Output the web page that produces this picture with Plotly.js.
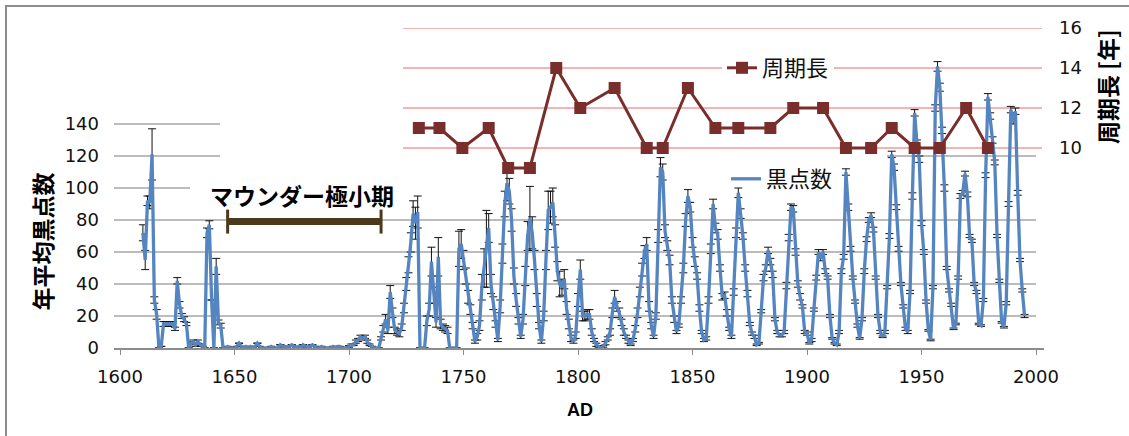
<!DOCTYPE html>
<html><head><meta charset="utf-8">
<script src="https://cdn.plot.ly/plotly-3.0.1.min.js"></script>
<style>html,body{margin:0;padding:0;background:#fff;}#chart{width:1129px;height:436px;}</style>
</head><body><div id="chart"></div>
<script>
// ---- data: annual mean sunspot number ----
const years1600s = [1610,1611,1612,1613,1614,1615,1616,1617,1618,1619,
1620,1621,1622,1623,1624,1625,1626,1627,1628,1629,
1630,1631,1632,1633,1634,1635,1636,1637,1638,1639,
1640,1641,1642,1643,1644,1645,1646,1647,1648,1649,
1650,1651,1652,1653,1654,1655,1656,1657,1658,1659,
1660,1661,1662,1663,1664,1665,1666,1667,1668,1669,
1670,1671,1672,1673,1674,1675,1676,1677,1678,1679,
1680,1681,1682,1683,1684,1685,1686,1687,1688,1689,
1690,1691,1692,1693,1694,1695,1696,1697,1698,1699];
const spots1600s = [72,55,92,91,121,30,21,0,1,15,
15,15,15,15,12,42,27,20,18,15,
0,3,4,2,4,2,1,0,72,77,
30,0,51,16,14,0,0,1,0,0,
0,1,3,1,0,1,0,1,0,1,
3,1,0,0,0,0,1,0,0,0,
2,1,1,0,1,2,1,0,1,0,
2,1,0,1,2,1,0,0,1,0,
0,0,0,1,0,1,1,0,0,0];
const err1600s = [5,6,3,4,16,2,3,0,0,1.5,
1.5,1.5,1.5,1.5,1,2,2,1.5,1.5,1,
0,1,1,1,1,0.5,0,0,3,2.5,
0,0,5,1.5,1.5,0,0,0,0,0,
0,0,0,0,0,0,0,0,0,0,
0,0,0,0,0,0,0,0,0,0,
0,0,0,0,0,0,0,0,0,0,
0,0,0,0,0,0,0,0,0,0,
0,0,0,0,0,0,0,0,0,0];

const years1700s = [1700,1701,1702,1703,1704,1705,1706,1707,1708,1709,
1710,1711,1712,1713,1714,1715,1716,1717,1718,1719,
1720,1721,1722,1723,1724,1725,1726,1727,1728,1729,
1730,1731,1732,1733,1734,1735,1736,1737,1738,1739,
1740,1741,1742,1743,1744,1745,1746,1747,1748,1749,
1750,1751,1752,1753,1754,1755,1756,1757,1758,1759,
1760,1761,1762,1763,1764,1765,1766,1767,1768,1769,
1770,1771,1772,1773,1774,1775,1776,1777,1778,1779,
1780,1781,1782,1783,1784,1785,1786,1787,1788,1789,
1790,1791,1792,1793,1794,1795,1796,1797,1798,1799];
const spots1700s = [1,2,2,4,5,7,6,7,4,2,
1,0,0,0,6,12,18,11,35,22,
11,10,9,13,25,40,52,66,84,78,
85,0,0,0,17,24,54,33,16,57,
15,13,12,11,0,0,0,0,62,65,
55,45,32,24,14,4,7,14,38,50,
62,75,40,28,15,5,26,59,90,103,
98,80,45,30,17,7,18,45,70,81,
72,55,30,14,4,20,55,86,88,91,
70,48,40,38,43,25,15,6,4,8];
const err1700s = [0.5,0.5,0.5,1,1,1,1,1,1,0.5,
0,0,0,0,1,2,3,2,4,3,
2,2,2,2,3,4,5,6,8,10,
10,0,0,0,3,4,9,5,3,12,
3,2,2,2,0,0,0,0,11,9,
6,5,4,3,2,1,2,3,8,12,
24,9,6,4,2,1,4,6,8,11,
8,7,5,4,2,1,3,6,9,20,
10,6,4,2,1,3,6,12,10,9,
7,6,8,5,6,4,3,2,1,2];

const years1800s = [1800,1801,1802,1803,1804,1805,1806,1807,1808,1809,
1810,1811,1812,1813,1814,1815,1816,1817,1818,1819,
1820,1821,1822,1823,1824,1825,1826,1827,1828,1829,
1830,1831,1832,1833,1834,1835,1836,1837,1838,1839,
1840,1841,1842,1843,1844,1845,1846,1847,1848,1849,
1850,1851,1852,1853,1854,1855,1856,1857,1858,1859,
1860,1861,1862,1863,1864,1865,1866,1867,1868,1869,
1870,1871,1872,1873,1874,1875,1876,1877,1878,1879,
1880,1881,1882,1883,1884,1885,1886,1887,1888,1889,
1890,1891,1892,1893,1894,1895,1896,1897,1898,1899];
const spots1800s = [30,49,20,20,21,21,10,5,2,1,
0,1,3,6,10,22,32,26,22,16,
10,7,4,2,5,12,22,35,49,60,
65,26,14,7,20,70,113,110,73,64,
55,30,18,10,14,30,50,80,95,88,
66,54,45,25,10,5,6,30,62,90,
75,71,50,32,33,22,12,7,35,72,
97,84,70,50,34,15,9,7,2,3,
23,44,50,61,54,46,18,10,8,8,
10,39,69,88,87,60,40,32,26,10];
const err1800s = [4,6,3,3,3,3,2,1,1,0.5,
0,0.5,1,1,2,3,4,3,3,2,
2,1,1,0.5,1,2,3,3,4,4,
4,3,2,1,2,4,6,5,4,3,
3,2,2,1,1,2,3,4,4,3,
3,3,2,2,1,1,1,2,3,3,
3,3,2,2,2,2,1,1,2,3,
3,3,2,2,2,1,1,1,0.5,0.5,
1,2,2,2,2,2,1,1,1,1,
1,2,2,2,2,2,2,2,1,1];

const years1900s = [1900,1901,1902,1903,1904,1905,1906,1907,1908,1909,
1910,1911,1912,1913,1914,1915,1916,1917,1918,1919,
1920,1921,1922,1923,1924,1925,1926,1927,1928,1929,
1930,1931,1932,1933,1934,1935,1936,1937,1938,1939,
1940,1941,1942,1943,1944,1945,1946,1947,1948,1949,
1950,1951,1952,1953,1954,1955,1956,1957,1958,1959,
1960,1961,1962,1963,1964,1965,1966,1967,1968,1969,
1970,1971,1972,1973,1974,1975,1976,1977,1978,1979,
1980,1981,1982,1983,1984,1985,1986,1987,1988,1989,
1990,1991,1992,1993,1994,1995];
const spots1900s = [9,3,5,24,44,60,56,60,48,44,
20,6,3,2,10,48,57,110,88,62,
44,29,14,6,18,48,68,80,83,74,
44,20,10,7,10,38,70,121,113,88,
62,40,26,12,10,35,95,147,128,118,
78,60,29,11,5,38,150,176,163,136,
100,50,36,27,12,15,44,95,97,109,
96,70,67,40,35,15,14,30,108,157,
145,130,116,70,42,16,13,28,90,149,
142,148,97,55,36,20];
const err1900s = [1,0.5,1,1,1.5,1.5,1.5,1.5,1.5,1,
1,0.5,0.5,0.5,1,1.5,1.5,2,2,1.5,
1,1,1,0.5,1,1.5,1.5,1.5,1.5,1.5,
1,1,1,0.5,1,1,1.5,2,2,1.5,
1.5,1,1,1,1,1,2,2,2,2,
1.5,1.5,1,0.5,0.5,1,2,3,2.5,2,
2,1,1,1,0.5,0.5,1,1.5,1.5,1.5,
1.5,1,1,1,1,0.5,0.5,1,1.5,2,
2,2,1.5,1,1,0.5,0.5,1,1.5,2,
2,2,1.5,1,1,1];

// ---- data: solar cycle length [years] ----
const cycleYears = [1730.5,1739.5,1749.5,1761,1769.5,1779,1790.5,1801,1816,1830,1837,1848,
                    1860,1870,1884,1894,1907,1917,1928,1937,1947,1958,1969.5,1979];
const cycleLength = [11,11,10,11,9,9,14,12,13,10,10,13,11,11,11,12,12,10,10,11,10,10,12,10];

// ---- tick labels / texts ----
const leftTicks = [0,20,40,60,80,100,120,140];
const rightTicks = [10,12,14,16];
const maunderSpan = [1647, 1714];

// ---- geometry helpers (styling only) ----
const L = 114, R = 1044, T = 28, B = 348;
const pxX = p => (p - L) / (R - L);
const pxY = p => (B - p) / (B - T);
const XR = [1597.38, 2003.49];
const yearAt = p => XR[0] + (p - L) / (R - L) * (XR[1] - XR[0]);

const years = [].concat(years1600s, years1700s, years1800s, years1900s);
const spots = [].concat(spots1600s, spots1700s, spots1800s, spots1900s);
const errs = [].concat(err1600s, err1700s, err1800s, err1900s);

const JP = '"Noto Sans CJK JP", "Noto Sans", sans-serif';
const NUM = '"DejaVu Sans", Arial, sans-serif';
const GRID = '#a6a6a6', RED = '#f29a9a', MAROON = '#7a2e2c', BLUE = '#5585c0';

const sunspotTrace = {
  x: years, y: spots, type: 'scatter', mode: 'lines', name: '黒点数',
  legend: 'legend2', yaxis: 'y',
  line: {color: BLUE, width: 3.3},
  error_y: {type: 'data', array: errs, visible: true, color: '#111', thickness: 1, width: 4}
};
const cycleTrace = {
  x: cycleYears, y: cycleLength, type: 'scatter', mode: 'lines+markers', name: '周期長',
  legend: 'legend', yaxis: 'y2',
  line: {color: MAROON, width: 3},
  marker: {symbol: 'square', size: 12, color: MAROON}
};

const shapes = [];
function hseg(x0, x1, y, yref, color, w) {
  shapes.push({type: 'line', layer: 'below', xref: 'x', yref: yref, x0: x0, x1: x1, y0: y, y1: y,
               line: {color: color, width: w}});
}
// grey gridlines (partly hidden in the original)
[20, 40, 60, 80].forEach(v => hseg(XR[0], yearAt(1036), v, 'y', GRID, 1.3));
hseg(XR[0], yearAt(190), leftTicks[5], 'y', GRID, 1.3);
hseg(XR[0], yearAt(220), leftTicks[6], 'y', GRID, 1.3);
hseg(yearAt(887), yearAt(1036), leftTicks[6], 'y', GRID, 1.3);
hseg(XR[0], yearAt(220), leftTicks[7], 'y', GRID, 1.3);
// red gridlines of the cycle-length axis
rightTicks.forEach(v => hseg(yearAt(403), yearAt(1042), v, 'y2', RED, 1.4));
// Maunder minimum bracket
const BROWN = '#4b3a1b';
shapes.push({type: 'line', xref: 'x', yref: 'y', x0: maunderSpan[0], x1: maunderSpan[1], y0: 79, y1: 79,
             line: {color: BROWN, width: 7}});
maunderSpan.forEach(xv => shapes.push({type: 'line', xref: 'x', yref: 'y', x0: xv, x1: xv, y0: 71.5, y1: 86.5,
             line: {color: BROWN, width: 3}}));
// outer frame
shapes.push({type: 'rect', xref: 'paper', yref: 'paper', x0: pxX(6), x1: pxX(1300), y0: pxY(600), y1: pxY(6),
             line: {color: '#8c8c8c', width: 2}, fillcolor: 'rgba(0,0,0,0)', layer: 'below'});

const annotations = [
  {text: '<b>マウンダー極小期</b>', xref: 'x', yref: 'y', x: yearAt(301.5), y: (B - 195) / 1.6,
   showarrow: false, font: {family: JP, size: 23, color: '#000'}, xanchor: 'center', yanchor: 'middle'},
  {text: '<b>年平均黒点数</b>', xref: 'paper', yref: 'paper', x: pxX(41), y: pxY(241.5), textangle: -90,
   showarrow: false, font: {family: JP, size: 23, color: '#000'}, xanchor: 'center', yanchor: 'middle'},
  {text: '<b>周期長 [年]</b>', xref: 'paper', yref: 'paper', x: pxX(1107), y: pxY(87), textangle: -90,
   showarrow: false, font: {family: JP, size: 23, color: '#000'}, xanchor: 'center', yanchor: 'middle'},
  {text: '<b>AD</b>', xref: 'paper', yref: 'paper', x: pxX(580), y: pxY(410),
   showarrow: false, font: {family: 'Liberation Sans, Arial, sans-serif', size: 18, color: '#000'},
   xanchor: 'center', yanchor: 'middle'}
];

const layout = {
  width: 1129, height: 436,
  margin: {l: L, r: 1129 - R, t: T, b: 436 - B, pad: 0},
  paper_bgcolor: '#fff', plot_bgcolor: 'rgba(0,0,0,0)',
  showlegend: true,
  xaxis: {range: XR, tickmode: 'array', tickvals: [1600,1650,1700,1750,1800,1850,1900,1950,2000],
          ticktext: ['1600','1650','1700','1750','1800','1850','1900','1950','2000'],
          ticks: 'outside', ticklen: 5, tickcolor: '#8c8c8c', tickwidth: 1,
          showline: true, linecolor: '#8c8c8c', linewidth: 1.5, showgrid: false, zeroline: false,
          ticklabelstandoff: 7, tickfont: {family: NUM, size: 18, color: '#111'}},
  yaxis: {range: [0, 200], tickmode: 'array', tickvals: leftTicks, ticktext: leftTicks.map(String),
          showgrid: false, zeroline: false, showline: false, ticks: '',
          ticklabelstandoff: 14, tickfont: {family: NUM, size: 18, color: '#111'}},
  yaxis2: {range: [0, 16], overlaying: 'y', side: 'right', tickmode: 'array', tickvals: rightTicks,
           ticktext: rightTicks.map(String), showgrid: false, zeroline: false, showline: false, ticks: '',
           ticklabelstandoff: 14, tickfont: {family: NUM, size: 18, color: '#111'}},
  legend: {x: pxX(722), y: pxY(68), xanchor: 'left', yanchor: 'middle', bgcolor: '#fff', borderwidth: 0,
           font: {family: JP, size: 22, color: '#111'}},
  legend2: {x: pxX(726), y: pxY(179), xanchor: 'left', yanchor: 'middle', bgcolor: 'rgba(0,0,0,0)', borderwidth: 0,
           font: {family: JP, size: 22, color: '#111'}},
  shapes: shapes,
  annotations: annotations
};

Plotly.newPlot('chart', [sunspotTrace, cycleTrace], layout, {staticPlot: true, displayModeBar: false});
</script></body></html>
